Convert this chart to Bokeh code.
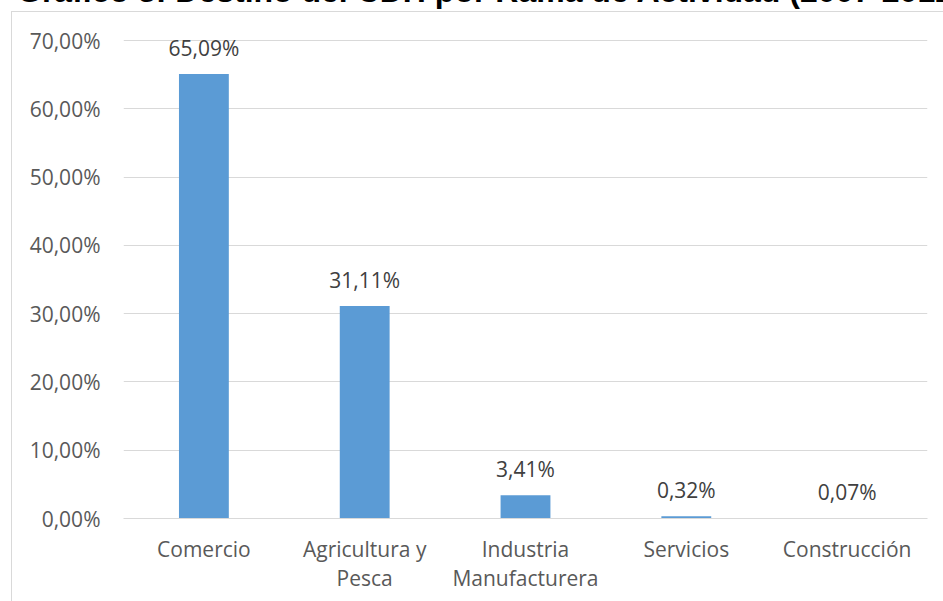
from bokeh.plotting import figure
from bokeh.models import FactorRange, Range1d, FixedTicker, Div
from bokeh.layouts import column
from bokeh.core.properties import value
from bokeh.embed import file_html
from bokeh.resources import INLINE

title_text = "Gráfico 3: Destino del CDH por Rama de Actividad (2007-2012)"
categories = ["Comercio", "Agricultura y\nPesca", "Industria\nManufacturera", "Servicios", "Construcción"]
values = [65.09, 31.11, 3.41, 0.32, 0.07]
value_labels = ["65,09%", "31,11%", "3,41%", "0,32%", "0,07%"]
y_ticks = [0, 10, 20, 30, 40, 50, 60, 70]
y_tick_labels = ["0,00%", "10,00%", "20,00%", "30,00%", "40,00%", "50,00%", "60,00%", "70,00%"]

FONT = "Open Sans"
FS = "21px"

p = figure(
    width=943, height=601,
    x_range=FactorRange(factors=categories),
    y_range=Range1d(0, 71.03),
    min_border_left=123, min_border_right=16,
    min_border_top=33, min_border_bottom=83,
    output_backend="svg", toolbar_location=None,
)
p.outline_line_color = None
p.background_fill_color = "white"
p.border_fill_alpha = 0
p.styles = {
    "background-color": "white",
    "background-image": "linear-gradient(#D9D9D9,#D9D9D9), linear-gradient(#D9D9D9,#D9D9D9)",
    "background-size": "1px 100%, 100% 1px",
    "background-position": "11px 11px, 11px 11px",
    "background-repeat": "no-repeat",
}

ticker = FixedTicker(ticks=y_ticks)
p.yaxis.ticker = ticker
p.ygrid.ticker = ticker
p.ygrid.grid_line_color = "#D9D9D9"
p.ygrid.grid_line_width = 1
p.xgrid.grid_line_color = None

p.yaxis.major_label_overrides = {t: l for t, l in zip(y_ticks, y_tick_labels)}
p.yaxis.axis_line_color = None
p.yaxis.major_tick_line_color = None
p.yaxis.minor_tick_line_color = None
p.yaxis.major_tick_out = 0
p.yaxis.major_tick_in = 0
p.yaxis.major_label_standoff = 23
p.yaxis.major_label_text_font = FONT
p.yaxis.major_label_text_font_size = FS
p.yaxis.major_label_text_color = "#595959"

p.xaxis.axis_line_color = "#D9D9D9"
p.xaxis.major_tick_line_color = None
p.xaxis.minor_tick_line_color = None
p.xaxis.major_tick_out = 0
p.xaxis.major_tick_in = 0
p.xaxis.major_label_standoff = 16
p.xaxis.major_label_text_font = FONT
p.xaxis.major_label_text_font_size = FS
p.xaxis.major_label_text_color = "#595959"
p.xaxis.major_label_text_line_height = 1.06

p.vbar(x=categories, top=values, width=0.31, fill_color="#5B9BD5", line_color=None)

p.text(x=categories, y=values, text=value_labels,
       text_align="center", text_baseline="alphabetic", y_offset=-26,
       text_font=value(FONT), text_font_size=FS, text_color="#404040")

title_div = Div(
    text=title_text, width=931, height=40,
    styles={
        "position": "absolute",
        "left": "12px",
        "top": "-30px",
        "width": "931px",
        "height": "40px",
        "overflow": "hidden",
        "white-space": "nowrap",
        "font-family": "'Liberation Sans', Arial, sans-serif",
        "font-weight": "bold",
        "font-size": "32px",
        "line-height": "32px",
        "color": "black",
        "z-index": "10",
    },
)

layout = column(p, title_div)

open("out.html", "w").write(file_html(layout, INLINE))
